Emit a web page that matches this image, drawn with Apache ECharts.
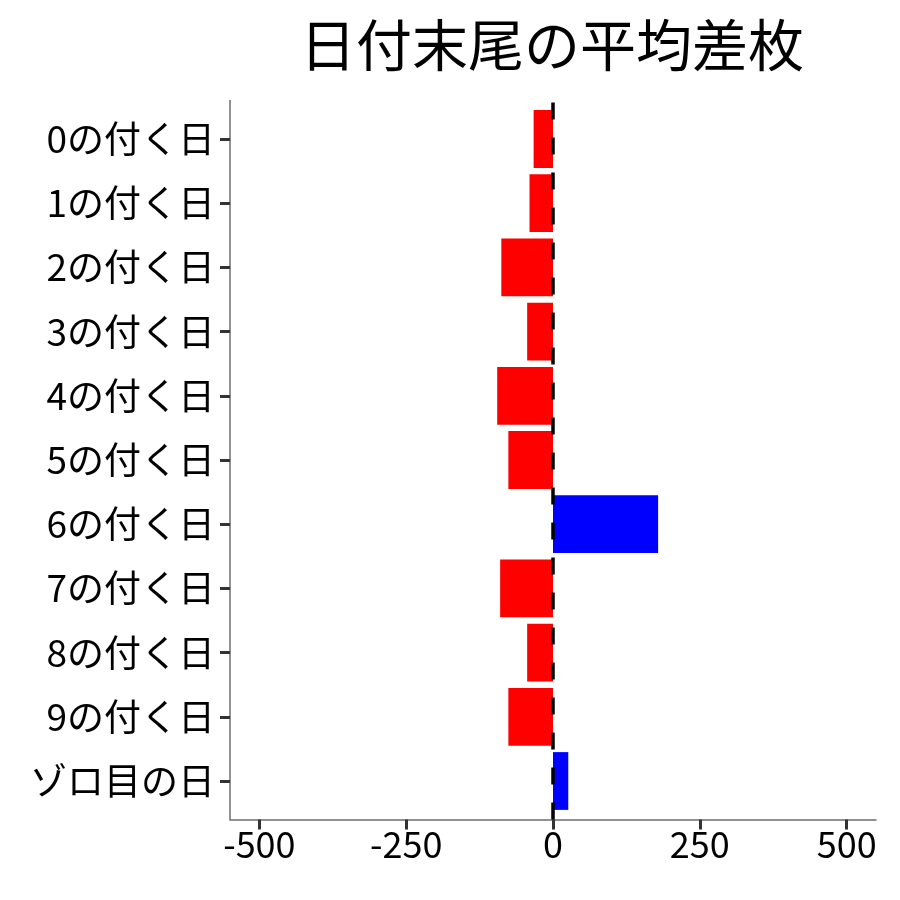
<!DOCTYPE html>
<html>
<head>
<meta charset="utf-8">
<script src="https://cdn.jsdelivr.net/npm/echarts@6/dist/echarts.min.js"></script>
<style>
html,body{margin:0;padding:0;background:#fff;}
#main{width:900px;height:900px;}
</style>
</head>
<body>
<div id="main"></div>
<script>
const titleText = '日付末尾の平均差枚';
const categories = ['0の付く日','1の付く日','2の付く日','3の付く日','4の付く日','5の付く日','6の付く日','7の付く日','8の付く日','9の付く日','ゾロ目の日'];
const values = [-33, -40, -88, -44, -95, -76, 179, -90, -44, -76, 26];
const xTicks = [-500, -250, 0, 250, 500];
const xMin = -550, xMax = 550;
const refLine = 0;

const FONT = '"Noto Sans CJK JP", "Noto Sans", sans-serif';
const chart = echarts.init(document.getElementById('main'), null, {renderer: 'canvas'});

const option = {
  backgroundColor: '#ffffff',
  animation: false,
  title: {
    text: titleText,
    left: 552,
    top: 45,
    padding: 0,
    textAlign: 'center',
    textVerticalAlign: 'middle',
    textStyle: {fontFamily: FONT, fontSize: 56, fontWeight: 'normal', color: '#000'}
  },
  grid: [
    {left: 230, right: 24, top: 100.5, bottom: 80.5, containLabel: false},
    {left: 230, right: 24, top: 106.9, bottom: 86.9, containLabel: false}
  ],
  xAxis: [
    {
      type: 'value', gridIndex: 0, min: xMin, max: xMax,
      axisLine: {show: true, onZero: false, lineStyle: {color: '#6e6e6e', width: 1.5}},
      axisTick: {show: true, customValues: xTicks, length: 10, lineStyle: {color: '#333', width: 3}},
      axisLabel: {show: true, customValues: xTicks, fontFamily: FONT, fontSize: 36, color: '#000', margin: 7},
      splitLine: {show: false}
    },
    {
      type: 'value', gridIndex: 1, min: xMin, max: xMax, show: false
    }
  ],
  yAxis: [
    {
      type: 'value', gridIndex: 0, min: 0, max: 1,
      axisLine: {show: true, onZero: false, lineStyle: {color: '#6e6e6e', width: 1.5}},
      axisTick: {show: false}, axisLabel: {show: false}, splitLine: {show: false}
    },
    {
      type: 'category', gridIndex: 1, data: categories, inverse: true,
      axisLine: {show: false, onZero: false},
      axisTick: {show: true, alignWithLabel: true, length: 10, lineStyle: {color: '#333', width: 3}},
      axisLabel: {fontFamily: FONT, fontSize: 37, color: '#000', margin: 15},
      splitLine: {show: false}
    }
  ],
  series: [
    {
      type: 'bar', xAxisIndex: 1, yAxisIndex: 1,
      barWidth: '90%',
      data: values.map(v => ({value: v, itemStyle: {color: v >= 0 ? '#0000ff' : '#ff0000'}})),
      z: 2
    },
    {
      type: 'line', xAxisIndex: 0, yAxisIndex: 0, data: [], z: 5,
      markLine: {
        silent: true, symbol: 'none', animation: false,
        label: {show: false},
        lineStyle: {color: '#000', width: 3.5, type: [17, 18]},
        data: [{xAxis: refLine}]
      }
    }
  ]
};
chart.setOption(option);
</script>
</body>
</html>
